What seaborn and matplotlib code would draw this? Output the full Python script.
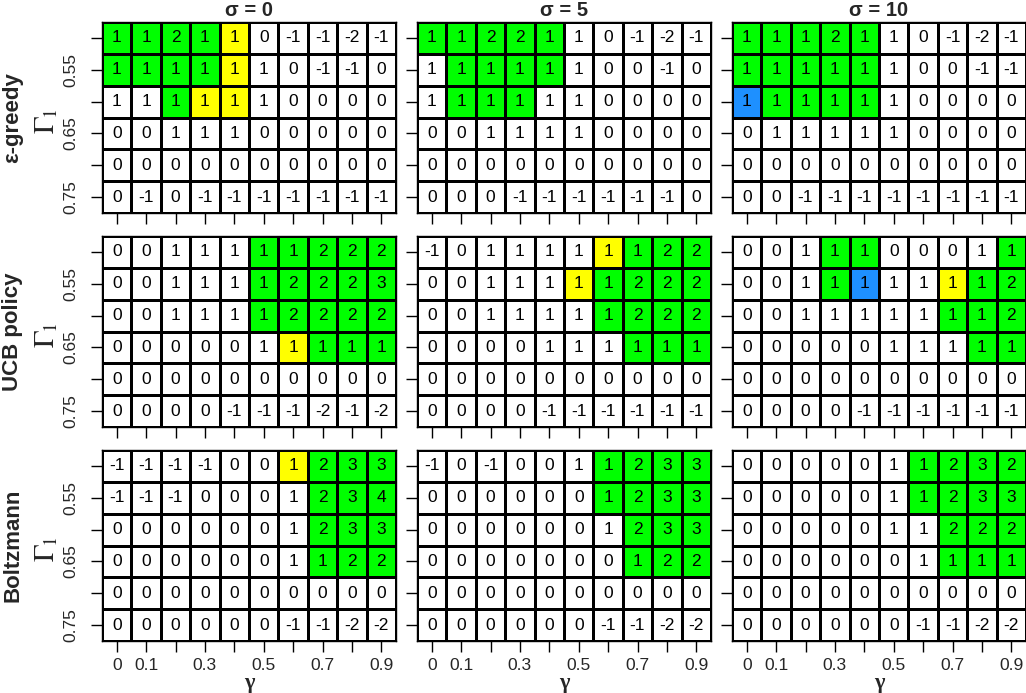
import numpy as np
import pandas as pd
import seaborn as sns
import matplotlib.pyplot as plt
from matplotlib.colors import ListedColormap

# axes values
gamma = [0, 0.1, 0.2, 0.3, 0.4, 0.5, 0.6, 0.7, 0.8, 0.9]
gamma_labels = ["0", "0.1", "", "0.3", "", "0.5", "", "0.7", "", "0.9"]
gamma1 = [0.5, 0.55, 0.6, 0.65, 0.7, 0.75]
gamma1_labels = ["", "0.55", "", "0.65", "", "0.75"]

policies = ["ε-greedy", "UCB policy", "Boltzmann"]
sigmas = [0, 5, 10]

# cell values (rows = Gamma_1, cols = gamma)
eps_s0 = [[1, 1, 2, 1, 1, 0, -1, -1, -2, -1],
          [1, 1, 1, 1, 1, 1, 0, -1, -1, 0],
          [1, 1, 1, 1, 1, 1, 0, 0, 0, 0],
          [0, 0, 1, 1, 1, 0, 0, 0, 0, 0],
          [0, 0, 0, 0, 0, 0, 0, 0, 0, 0],
          [0, -1, 0, -1, -1, -1, -1, -1, -1, -1]]
eps_s5 = [[1, 1, 2, 2, 1, 1, 0, -1, -2, -1],
          [1, 1, 1, 1, 1, 1, 0, 0, -1, 0],
          [1, 1, 1, 1, 1, 1, 0, 0, 0, 0],
          [0, 0, 1, 1, 1, 1, 0, 0, 0, 0],
          [0, 0, 0, 0, 0, 0, 0, 0, 0, 0],
          [0, 0, 0, -1, -1, -1, -1, -1, -1, 0]]
eps_s10 = [[1, 1, 1, 2, 1, 1, 0, -1, -2, -1],
           [1, 1, 1, 1, 1, 1, 0, 0, -1, -1],
           [1, 1, 1, 1, 1, 1, 0, 0, 0, 0],
           [0, 1, 1, 1, 1, 1, 0, 0, 0, 0],
           [0, 0, 0, 0, 0, 0, 0, 0, 0, 0],
           [0, 0, -1, -1, -1, -1, -1, -1, -1, -1]]
ucb_s0 = [[0, 0, 1, 1, 1, 1, 1, 2, 2, 2],
          [0, 0, 1, 1, 1, 1, 2, 2, 2, 3],
          [0, 0, 1, 1, 1, 1, 2, 2, 2, 2],
          [0, 0, 0, 0, 0, 1, 1, 1, 1, 1],
          [0, 0, 0, 0, 0, 0, 0, 0, 0, 0],
          [0, 0, 0, 0, -1, -1, -1, -2, -1, -2]]
ucb_s5 = [[-1, 0, 1, 1, 1, 1, 1, 1, 2, 2],
          [0, 0, 1, 1, 1, 1, 1, 2, 2, 2],
          [0, 0, 1, 1, 1, 1, 1, 2, 2, 2],
          [0, 0, 0, 0, 1, 1, 1, 1, 1, 1],
          [0, 0, 0, 0, 0, 0, 0, 0, 0, 0],
          [0, 0, 0, 0, -1, -1, -1, -1, -1, -1]]
ucb_s10 = [[0, 0, 1, 1, 1, 0, 0, 0, 1, 1],
           [0, 0, 1, 1, 1, 1, 1, 1, 1, 2],
           [0, 0, 1, 1, 1, 1, 1, 1, 1, 2],
           [0, 0, 0, 0, 0, 1, 1, 1, 1, 1],
           [0, 0, 0, 0, 0, 0, 0, 0, 0, 0],
           [0, 0, 0, 0, -1, -1, -1, -1, -1, -1]]
boltz_s0 = [[-1, -1, -1, -1, 0, 0, 1, 2, 3, 3],
            [-1, -1, -1, 0, 0, 0, 1, 2, 3, 4],
            [0, 0, 0, 0, 0, 0, 1, 2, 3, 3],
            [0, 0, 0, 0, 0, 0, 1, 1, 2, 2],
            [0, 0, 0, 0, 0, 0, 0, 0, 0, 0],
            [0, 0, 0, 0, 0, 0, -1, -1, -2, -2]]
boltz_s5 = [[-1, 0, -1, 0, 0, 1, 1, 2, 3, 3],
            [0, 0, 0, 0, 0, 0, 1, 2, 3, 3],
            [0, 0, 0, 0, 0, 0, 1, 2, 3, 3],
            [0, 0, 0, 0, 0, 0, 0, 1, 2, 2],
            [0, 0, 0, 0, 0, 0, 0, 0, 0, 0],
            [0, 0, 0, 0, 0, 0, -1, -1, -2, -2]]
boltz_s10 = [[0, 0, 0, 0, 0, 1, 1, 2, 3, 2],
             [0, 0, 0, 0, 0, 1, 1, 2, 3, 3],
             [0, 0, 0, 0, 0, 1, 1, 2, 2, 2],
             [0, 0, 0, 0, 0, 0, 1, 1, 1, 1],
             [0, 0, 0, 0, 0, 0, 0, 0, 0, 0],
             [0, 0, 0, 0, 0, 0, -1, -1, -2, -2]]

# cell highlight: W = none, G = green, Y = yellow, B = blue
eps_s0_hl = ["GGGGYWWWWW", "GGGGYWWWWW", "WWGYYWWWWW",
             "WWWWWWWWWW", "WWWWWWWWWW", "WWWWWWWWWW"]
eps_s5_hl = ["GGGGGWWWWW", "WGGGGWWWWW", "WGGGWWWWWW",
             "WWWWWWWWWW", "WWWWWWWWWW", "WWWWWWWWWW"]
eps_s10_hl = ["GGGGGWWWWW", "GGGGGWWWWW", "BGGGGWWWWW",
              "WWWWWWWWWW", "WWWWWWWWWW", "WWWWWWWWWW"]
ucb_s0_hl = ["WWWWWGGGGG", "WWWWWGGGGG", "WWWWWGGGGG",
             "WWWWWWYGGG", "WWWWWWWWWW", "WWWWWWWWWW"]
ucb_s5_hl = ["WWWWWWYGGG", "WWWWWYGGGG", "WWWWWWGGGG",
             "WWWWWWWGGG", "WWWWWWWWWW", "WWWWWWWWWW"]
ucb_s10_hl = ["WWWGGWWWWG", "WWWGBWWYGG", "WWWWWWWGGG",
              "WWWWWWWWGG", "WWWWWWWWWW", "WWWWWWWWWW"]
boltz_s0_hl = ["WWWWWWYGGG", "WWWWWWWGGG", "WWWWWWWGGG",
               "WWWWWWWGGG", "WWWWWWWWWW", "WWWWWWWWWW"]
boltz_s5_hl = ["WWWWWWGGGG", "WWWWWWGGGG", "WWWWWWWGGG",
               "WWWWWWWGGG", "WWWWWWWWWW", "WWWWWWWWWW"]
boltz_s10_hl = ["WWWWWWGGGG", "WWWWWWGGGG", "WWWWWWWGGG",
                "WWWWWWWGGG", "WWWWWWWWWW", "WWWWWWWWWW"]

values = [[eps_s0, eps_s5, eps_s10],
          [ucb_s0, ucb_s5, ucb_s10],
          [boltz_s0, boltz_s5, boltz_s10]]
highlights = [[eps_s0_hl, eps_s5_hl, eps_s10_hl],
              [ucb_s0_hl, ucb_s5_hl, ucb_s10_hl],
              [boltz_s0_hl, boltz_s5_hl, boltz_s10_hl]]

code = {"W": 0, "G": 1, "Y": 2, "B": 3}
cmap = ListedColormap(["white", "#00FF00", "#FFFF00", "#1E90FF"])

sns.set_style("white")
plt.rcParams['font.family'] = ['Liberation Sans', 'DejaVu Sans']
plt.rcParams['mathtext.fontset'] = 'stix'

fig = plt.figure(figsize=(10.26, 6.93), dpi=100)
W, H = 1026, 693
lefts = [102, 417, 732]
bottoms = [213, 427, 641]
pw, ph = 294, 191

for i in range(3):
    for j in range(3):
        ax = fig.add_axes([lefts[j] / W, (H - bottoms[i]) / H, pw / W, ph / H])
        vals = pd.DataFrame(values[i][j], index=gamma1, columns=gamma)
        cols = pd.DataFrame([[code[c] for c in row] for row in highlights[i][j]],
                            index=gamma1, columns=gamma)
        sns.heatmap(cols, annot=vals, fmt='d', cmap=cmap, vmin=-0.5, vmax=3.5,
                    linewidths=0.75, linecolor='black', cbar=False, ax=ax,
                    annot_kws={'color': 'black', 'fontsize': 12.5})
        for s in ax.spines.values():
            s.set_visible(True)
            s.set_color('black')
            s.set_linewidth(1)
        ax.set_xticks(np.arange(len(gamma)) + 0.5)
        ax.set_yticks(np.arange(len(gamma1)) + 0.5)
        if i == 2:
            ax.set_xticklabels(gamma_labels, rotation=0)
            ax.set_xlabel("γ", fontfamily='Liberation Serif', fontweight='bold',
                          fontsize=16, labelpad=0)
        else:
            ax.set_xticklabels([""] * len(gamma))
            ax.set_xlabel("")
        if j == 0:
            ax.set_yticklabels(gamma1_labels, rotation=90, va='center')
        else:
            ax.set_yticklabels([""] * len(gamma1))
        ax.set_ylabel("")
        ax.tick_params(axis='both', direction='out', length=8, width=1,
                       color='black', labelsize=12.5, left=True, bottom=True)
        ax.tick_params(axis='x', pad=4)
        ax.tick_params(axis='y', pad=9)
        if i == 0:
            ax.set_title(f"σ = {sigmas[j]}", fontweight='bold', fontsize=14.5, pad=4)

    yc = (H - bottoms[i] + ph / 2) / H
    fig.text(13 / W, yc, policies[i], rotation=90, ha='center', va='center',
             fontsize=16, fontweight='bold')
    fig.text(46 / W, yc - 4 / H, r'$\Gamma_{\!1}$', rotation=90, ha='center',
             va='center', fontsize=21)

fig.savefig("out.png", dpi=100)
